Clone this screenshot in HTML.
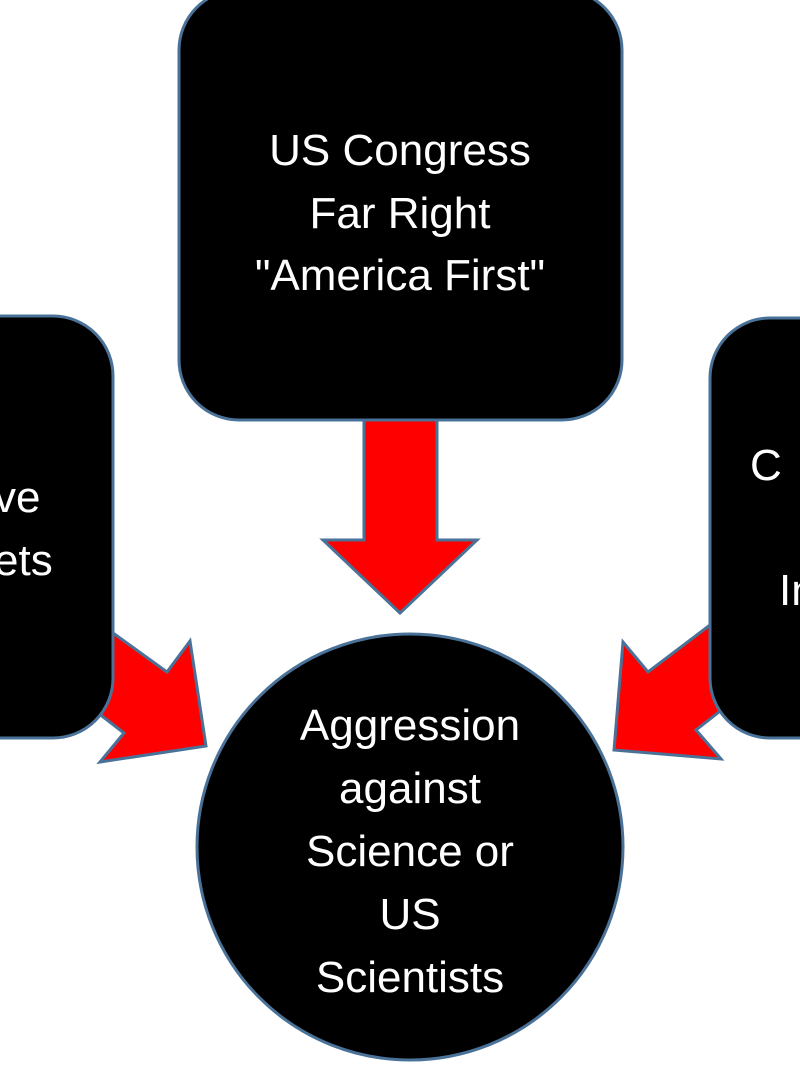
<!DOCTYPE html>
<html><head><style>
body{margin:0;width:800px;height:1067px;overflow:hidden;background:#fff;}
svg text{font-family:"Liberation Sans",sans-serif;font-size:44px;fill:#fff;text-anchor:middle;}
</style></head><body>
<svg width="800" height="1067" xmlns="http://www.w3.org/2000/svg">
<g fill="#ff0000" stroke="#4a7298" stroke-width="3" stroke-linejoin="miter">
<polygon points="113,633 167,672 190,641 206,746 100,762 124,733 98,713"/>
<polygon points="710,625 648,672 623,642 614,750 721,759 696,730 719,712"/>
<polygon points="364,418 437,418 437,540 477,540 400,613 323,540 364,540"/>
</g>
<g fill="#000" stroke="#4a7298" stroke-width="3">
<rect x="179" y="-10" width="443" height="430" rx="60"/>
<rect x="-100" y="316" width="213" height="422" rx="60"/>
<rect x="710" y="318" width="200" height="420" rx="60"/>
<circle cx="410" cy="847" r="213"/>
</g>
<text x="400" y="165">US Congress</text>
<text x="400" y="228">Far Right</text>
<text x="400" y="290">"America First"</text>
<text x="0" y="512" style="text-anchor:start" dx="-6">ve</text>
<text x="0" y="575" style="text-anchor:start" dx="-6">ets</text>
<text x="750" y="480" style="text-anchor:start">C</text>
<text x="779" y="605" style="text-anchor:start">In</text>
<text x="410" y="740">Aggression</text>
<text x="410" y="803">against</text>
<text x="410" y="866">Science or</text>
<text x="410" y="929">US</text>
<text x="410" y="992">Scientists</text>
</svg>
</body></html>
